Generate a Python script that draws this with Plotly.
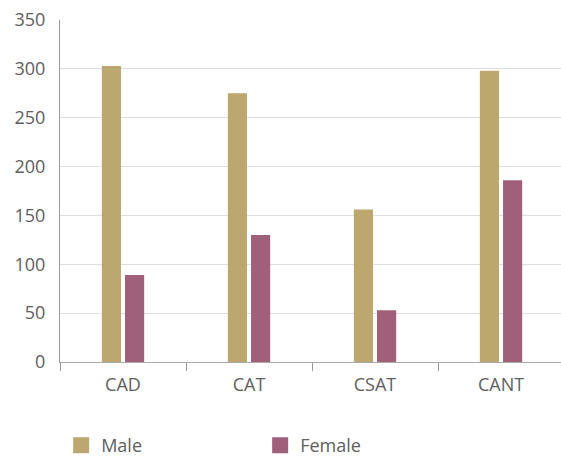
import plotly.graph_objects as go

categories = ["CAD", "CAT", "CSAT", "CANT"]
male = [303, 275, 156, 298]
female = [89, 130, 53, 186]
y_ticks = [0, 50, 100, 150, 200, 250, 300, 350]

FONT = "Open Sans"
TXT = "#606060"
C_MALE = "#BCA76F"
C_FEMALE = "#A0607A"

fig = go.Figure()
fig.add_trace(go.Bar(name="Male", x=categories, y=male, marker_color=C_MALE,
                     marker_line_width=0, showlegend=False, legendgroup="m"))
fig.add_trace(go.Bar(name="Female", x=categories, y=female, marker_color=C_FEMALE,
                     marker_line_width=0, showlegend=False, legendgroup="f"))
# legend entries with larger square swatches
fig.add_trace(go.Scatter(name="Male", x=[None], y=[None], mode="markers",
                         marker=dict(symbol="square", size=18, color=C_MALE),
                         legendgroup="m", showlegend=True))
fig.add_trace(go.Scatter(name="Female", x=[None], y=[None], mode="markers",
                         marker=dict(symbol="square", size=18, color=C_FEMALE),
                         legendgroup="f", showlegend=True))

fig.update_layout(
    width=561, height=456,
    margin=dict(l=60, r=0, t=20, b=94),
    paper_bgcolor="white", plot_bgcolor="white",
    barmode="group", bargap=0.632, bargroupgap=0.174,
    font=dict(family=FONT, size=18, color=TXT),
    showlegend=True,
    legend=dict(orientation="h", x=0.109, y=0.0636, xref="container", yref="container",
                xanchor="left", yanchor="top", itemsizing="trace",
                entrywidth=154, entrywidthmode="pixels",
                font=dict(family=FONT, size=18, color=TXT)),
)
fig.update_xaxes(
    type="category", tickson="boundaries", ticks="outside", ticklen=8,
    tickcolor="#999999", showline=True, linecolor="#aaaaaa", linewidth=1,
    showgrid=False, ticklabelstandoff=6, range=[-0.5, 3.476],
    tickfont=dict(family=FONT, size=18, color=TXT),
)
fig.update_yaxes(
    range=[0, 350], tickvals=y_ticks, showline=True, linecolor="#999999", linewidth=1,
    gridcolor="#dddddd", gridwidth=1, zeroline=False, ticks="",
    ticklabelstandoff=10, tickfont=dict(family=FONT, size=18, color=TXT),
)

fig.write_html("out.html")
